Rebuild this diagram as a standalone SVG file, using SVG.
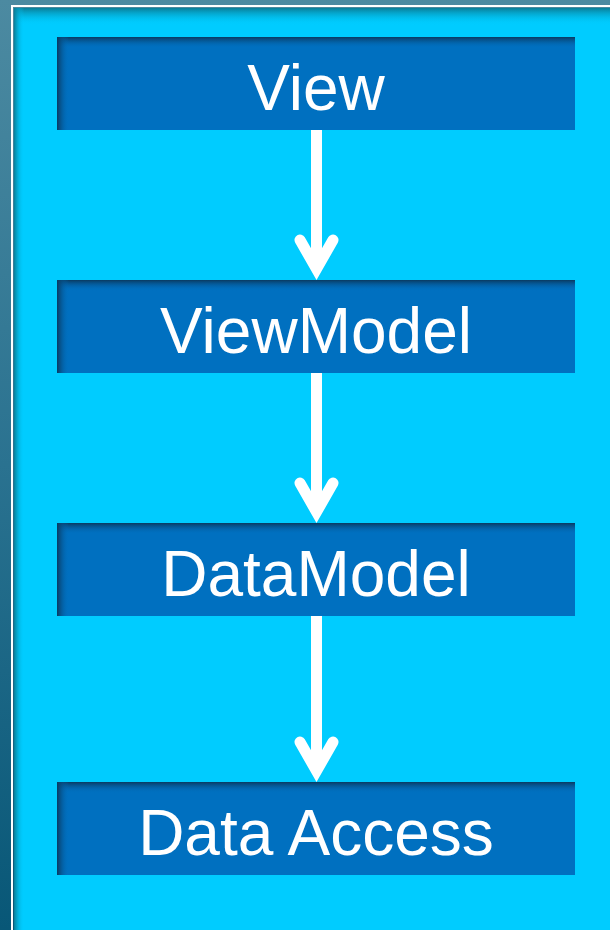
<svg xmlns="http://www.w3.org/2000/svg" width="610" height="930" viewBox="0 0 610 930">
  <defs>
    <linearGradient id="bg" x1="0" y1="0" x2="0" y2="1">
      <stop offset="0" stop-color="#4C8AA1"/>
      <stop offset="0.5" stop-color="#2A7290"/>
      <stop offset="1" stop-color="#085777"/>
    </linearGradient>
    <linearGradient id="frameTop" x1="0" y1="0" x2="0" y2="1">
      <stop offset="0" stop-color="#0A7D96" stop-opacity="1"/>
      <stop offset="1" stop-color="#00CCFF" stop-opacity="0"/>
    </linearGradient>
    <linearGradient id="frameLeft" x1="0" y1="0" x2="1" y2="0">
      <stop offset="0" stop-color="#0A7D96" stop-opacity="1"/>
      <stop offset="1" stop-color="#00CCFF" stop-opacity="0"/>
    </linearGradient>
    <linearGradient id="boxTop" x1="0" y1="0" x2="0" y2="1">
      <stop offset="0" stop-color="#0A3A60" stop-opacity="1"/>
      <stop offset="1" stop-color="#0070C0" stop-opacity="0"/>
    </linearGradient>
    <linearGradient id="boxLeft" x1="0" y1="0" x2="1" y2="0">
      <stop offset="0" stop-color="#0A3A60" stop-opacity="1"/>
      <stop offset="1" stop-color="#0070C0" stop-opacity="0"/>
    </linearGradient>
  </defs>
  <style>
    .box { fill: #0070C0; }
    .lbl { font-family: "Liberation Sans", Arial, sans-serif; font-size: 64px; fill: #FFFFFF; text-anchor: middle; }
    .shaft { stroke: #FFFFFF; stroke-width: 11; fill: none; }
    .head { stroke: #FFFFFF; stroke-width: 11; fill: none; stroke-linecap: round; stroke-linejoin: miter; stroke-miterlimit: 4; }
  </style>

  <!-- background frame -->
  <rect x="0" y="0" width="610" height="930" fill="url(#bg)"/>
  <rect x="12" y="6" width="610" height="940" fill="none" stroke="#FFFFFF" stroke-width="2"/>
  <rect x="14" y="8" width="596" height="922" fill="#00CCFF"/>
  <rect x="14" y="8" width="596" height="17" fill="url(#frameTop)"/>
  <rect x="14" y="8" width="10" height="922" fill="url(#frameLeft)"/>

  <g id="connectors">
    <g id="arrow1">
      <line class="shaft" x1="316.5" y1="130" x2="316.5" y2="270"/>
      <path class="head" d="M300,240 L316.5,269 L333,240"/>
    </g>
    <g id="arrow2">
      <line class="shaft" x1="316.5" y1="373" x2="316.5" y2="513"/>
      <path class="head" d="M300,483 L316.5,512 L333,483"/>
    </g>
    <g id="arrow3">
      <line class="shaft" x1="316.5" y1="616" x2="316.5" y2="772"/>
      <path class="head" d="M300,742 L316.5,771 L333,742"/>
    </g>
  </g>

  <g id="view">
    <rect class="box" x="57" y="37" width="518" height="93"/>
    <rect x="57" y="37" width="518" height="11" fill="url(#boxTop)"/>
    <rect x="57" y="37" width="12" height="93" fill="url(#boxLeft)"/>
    <text class="lbl" x="316" y="110">View</text>
  </g>

  <g id="viewmodel">
    <rect class="box" x="57" y="280" width="518" height="93"/>
    <rect x="57" y="280" width="518" height="11" fill="url(#boxTop)"/>
    <rect x="57" y="280" width="12" height="93" fill="url(#boxLeft)"/>
    <text class="lbl" x="316" y="353">ViewModel</text>
  </g>

  <g id="datamodel">
    <rect class="box" x="57" y="523" width="518" height="93"/>
    <rect x="57" y="523" width="518" height="11" fill="url(#boxTop)"/>
    <rect x="57" y="523" width="12" height="93" fill="url(#boxLeft)"/>
    <text class="lbl" x="316" y="596">DataModel</text>
  </g>

  <g id="dataaccess">
    <rect class="box" x="57" y="782" width="518" height="93"/>
    <rect x="57" y="782" width="518" height="11" fill="url(#boxTop)"/>
    <rect x="57" y="782" width="12" height="93" fill="url(#boxLeft)"/>
    <text class="lbl" x="316" y="855">Data Access</text>
  </g>
</svg>
